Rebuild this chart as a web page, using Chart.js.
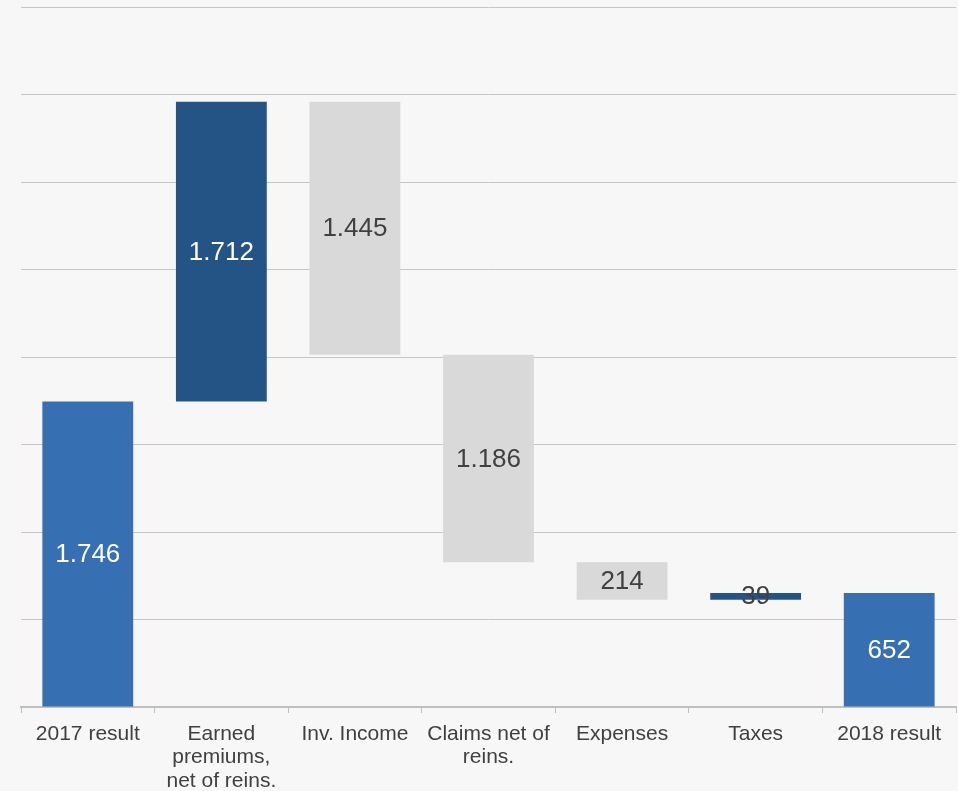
<!DOCTYPE html>
<html>
<head>
<meta charset="utf-8">
<script src="https://cdn.jsdelivr.net/npm/chart.js@4/dist/chart.umd.min.js"></script>
<style>
  html, body { margin: 0; padding: 0; background: #f7f7f7; }
  #wrap { width: 958px; height: 791px; }
</style>
</head>
<body>
<div id="wrap"><canvas id="chart"></canvas></div>
<script>
'use strict';

// Result bridge 2017 -> 2018
const categories = [
  '2017 result',
  ['Earned', 'premiums,', 'net of reins.'],
  'Inv. Income',
  ['Claims net of', 'reins.'],
  'Expenses',
  'Taxes',
  '2018 result',
];
// 'total' bars start at zero, the rest float on the running sum
const kinds   = ['total', 'up', 'down', 'down', 'down', 'up', 'total'];
const amounts = [1746, 1712, 1445, 1186, 214, 39, 652];
const yTicks  = { min: 0, max: 4000, step: 500 };

const COLORS = { total: '#3670b2', up: '#245486', down: '#d9d9d9' };
const LABEL_COLORS = { total: '#ffffff', up: '#ffffff', down: '#404040' };

// build [from, to] pairs for the floating bars
const ranges = [];
let running = 0;
kinds.forEach((k, i) => {
  const v = amounts[i];
  if (k === 'total') { ranges.push([0, v]); running = v; }
  else if (k === 'up') { ranges.push([running, running + v]); running += v; }
  else { ranges.push([running - v, running]); running -= v; }
});

const fmt = v => String(v).replace(/\B(?=(\d{3})+(?!\d))/g, '.');

const barLabels = {
  id: 'barLabels',
  afterDatasetsDraw(chart) {
    const ctx = chart.ctx;
    const meta = chart.getDatasetMeta(0);
    ctx.save();
    ctx.font = '26px "Liberation Sans", Arial, sans-serif';
    ctx.textAlign = 'center';
    ctx.textBaseline = 'middle';
    meta.data.forEach((bar, i) => {
      const { x, y, base } = bar.getProps(['x', 'y', 'base'], true);
      // thin bars get dark text, it overlaps the background
      const thin = Math.abs(base - y) < 30;
      ctx.fillStyle = thin ? '#404040' : LABEL_COLORS[kinds[i]];
      ctx.fillText(fmt(amounts[i]), x, (y + base) / 2 + 1);
    });
    ctx.restore();
  }
};

new Chart(document.getElementById('chart'), {
  type: 'bar',
  data: {
    labels: categories,
    datasets: [{
      data: ranges,
      backgroundColor: kinds.map(k => COLORS[k]),
      borderWidth: 0,
      categoryPercentage: 1,
      barPercentage: 0.68,
    }],
  },
  options: {
    responsive: true,
    maintainAspectRatio: false,
    animation: false,
    layout: { padding: { left: 21, right: 2, top: 7, bottom: 0 } },
    plugins: { legend: { display: false }, tooltip: { enabled: false } },
    scales: {
      x: {
        afterFit(scale) { scale.height = 84; },
        grid: { drawOnChartArea: false, drawTicks: true, tickLength: 6, color: '#bfbfbf', lineWidth: 1 },
        border: { color: '#bfbfbf', width: 2 },
        ticks: {
          color: '#404040',
          font: { family: '"Liberation Sans", Arial, sans-serif', size: 21, lineHeight: 1.12 },
          padding: 9,
          maxRotation: 0,
          autoSkip: false,
        },
      },
      y: {
        min: yTicks.min,
        max: yTicks.max,
        ticks: { display: false, stepSize: yTicks.step },
        grid: { color: '#c6c6c6', lineWidth: 1, drawTicks: false },
        border: { display: false },
      },
    },
  },
  plugins: [barLabels],
});
</script>
</body>
</html>
